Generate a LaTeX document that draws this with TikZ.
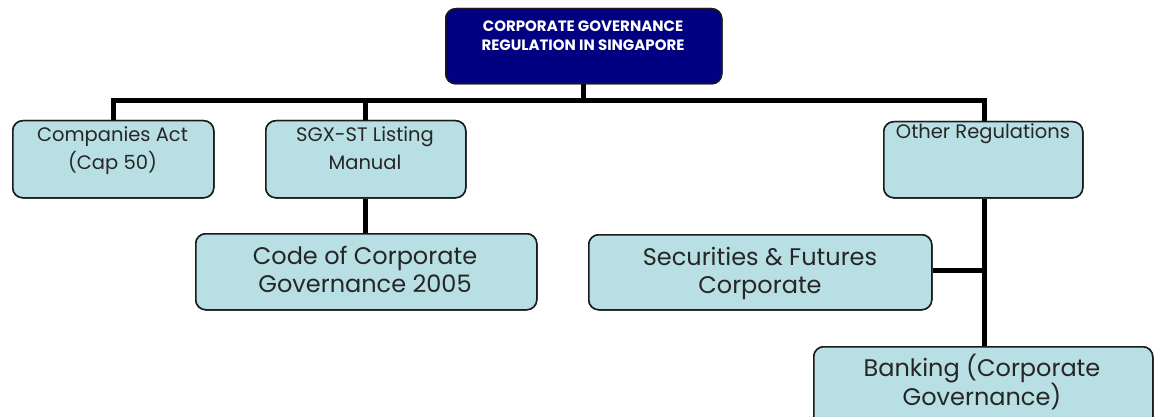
\documentclass[tikz,border=0pt]{standalone}
\usepackage{fontspec}
\setmainfont{Poppins}
\definecolor{navybox}{HTML}{000080}
\definecolor{paleteal}{HTML}{B8DFE3}
\definecolor{edgegray}{HTML}{1A1A1A}
% two centred lines, the node's base anchor sits on the first baseline
\newcommand\pairlines[3]{\vtop{\baselineskip=#1\halign{\hfil##\hfil\cr #2\cr #3\cr}}}
\tikzset{
  regbox/.style={draw=edgegray, line width=1.5pt, fill=paleteal, rounded corners=10pt,
                 rectangle, inner sep=0pt, anchor=north west},
  headbox/.style={regbox, fill=navybox},
  link/.style={line width=5pt, black},
  smalltxt/.style={anchor=base, inner sep=0pt, font=\fontsize{19.5}{23}\selectfont, text=black!85},
  bigtxt/.style={anchor=base, inner sep=0pt, font=\fontsize{24}{28}\selectfont, text=black!85},
  headtxt/.style={anchor=base, inner sep=0pt, font=\fontsize{15}{18}\selectfont\bfseries, text=white},
}
\begin{document}
\begin{tikzpicture}[x=1pt, y=-1pt]
  \useasboundingbox (0,0) rectangle (1159,417);
  \clip (0,0) rectangle (1159,417);

  % boxes
  \node[headbox, minimum width=276pt, minimum height=75pt] (top) at (445,8) {};
  \node[regbox, minimum width=201pt, minimum height=77pt] (comp) at (12,120) {};
  \node[regbox, minimum width=200pt, minimum height=77pt] (sgx) at (265,120) {};
  \node[regbox, minimum width=199pt, minimum height=76pt] (other) at (883,121) {};
  \node[regbox, minimum width=341pt, minimum height=76pt] (code) at (195,233) {};
  \node[regbox, minimum width=343pt, minimum height=75pt] (sec) at (588,234) {};
  \node[regbox, minimum width=339pt, minimum height=90pt] (bank) at (813,346) {};

  % junctions
  \coordinate (hub) at (583,101);
  \coordinate (jl) at (113,101);
  \coordinate (jm) at (365,101);
  \coordinate (jr) at (984,101);
  \coordinate (js) at (984,270);

  % connectors
  \draw[link] (top.south -| hub) -- (hub);
  \draw[link] (comp.north -| jl) |- (jr) -- (other.north -| jr);
  \draw[link] (jm) -- (sgx.north -| jm);
  \draw[link] (sgx.south -| jm) -- (code.north -| jm);
  \draw[link] (other.south -| jr) -- (bank.north -| jr);
  \draw[link] (sec.east |- js) -- (js);

  % redraw boxes over the line ends
  \node[headbox, minimum width=276pt, minimum height=75pt] at (445,8) {};
  \node[regbox, minimum width=201pt, minimum height=77pt] at (12,120) {};
  \node[regbox, minimum width=200pt, minimum height=77pt] at (265,120) {};
  \node[regbox, minimum width=199pt, minimum height=76pt] at (883,121) {};
  \node[regbox, minimum width=341pt, minimum height=76pt] at (195,233) {};
  \node[regbox, minimum width=343pt, minimum height=75pt] at (588,234) {};
  \node[regbox, minimum width=339pt, minimum height=90pt] at (813,346) {};

  % labels
  \node[headtxt] (toptxt) at (583,32) {\pairlines{19pt}{CORPORATE GOVERNANCE}{REGULATION IN SINGAPORE}};
  \node[smalltxt] (comptxt) at (112.5,142) {\pairlines{28pt}{Companies Act}{(Cap 50)}};
  \node[smalltxt] (sgxtxt) at (365,142) {\pairlines{28pt}{SGX-ST Listing}{Manual}};
  \node[smalltxt] (othertxt) at (983,139) {Other Regulations};
  \node[bigtxt] (codetxt) at (365,264) {\pairlines{28pt}{Code of Corporate}{Governance 2005}};
  \node[bigtxt] (sectxt) at (760,265) {\pairlines{28pt}{Securities \& Futures}{Corporate}};
  \node[bigtxt] (banktxt) at (982,376) {\pairlines{28pt}{Banking (Corporate}{Governance)}};
\end{tikzpicture}
\end{document}
